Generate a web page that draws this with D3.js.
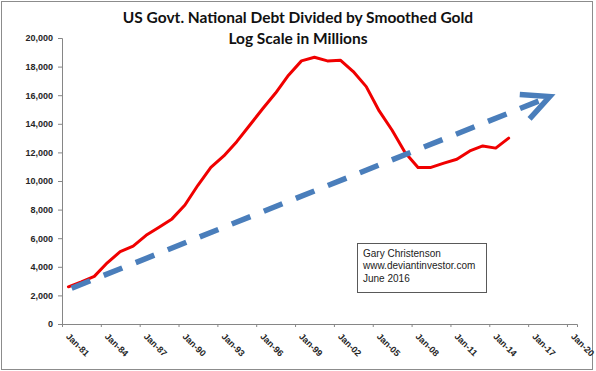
<!DOCTYPE html>
<html><head><meta charset="utf-8">
<script src="https://cdn.jsdelivr.net/npm/d3@7/dist/d3.min.js"></script>
<style>body{margin:0;background:#fff}svg{display:block}</style>
</head><body><svg id="c" width="596" height="371"></svg>
<script>
const titleLines = ["US Govt. National Debt Divided by Smoothed Gold", "Log Scale in Millions"];
const noteLines = ["Gary Christenson", "www.deviantinvestor.com", "June 2016"];
const dataYears = [1981,1982,1983,1984,1985,1986,1987,1988,1989,1990,1991,1992,1993,1994,1995,1996,1997,1998,1999,2000,2001,2002,2003,2004,2005,2006,2007,2008,2009,2010,2011,2012,2013,2014,2015];
const debtOverGold = [2600,2950,3330,4280,5060,5450,6200,6770,7350,8320,9700,10950,11750,12750,13900,15050,16150,17400,18400,18650,18400,18450,17650,16600,14900,13550,12000,10950,10950,11250,11520,12100,12450,12300,13000];
const tickYears = [1981,1984,1987,1990,1993,1996,1999,2002,2005,2008,2011,2014,2017,2020];
const yTickValues = [0,2000,4000,6000,8000,10000,12000,14000,16000,18000,20000];
const trendDates = [new Date(1981, 9, 1), new Date(2018, 8, 1)];
const trendValues = [2500, 15900];

const svg = d3.select("#c");
svg.append("rect").attr("x",1.5).attr("y",1.5).attr("width",591).attr("height",368)
  .attr("fill","#fff").attr("stroke","#8c8c8c").attr("stroke-width",1);

const x = d3.scaleTime().domain([new Date(1981,0,1), new Date(2020,9,10)]).range([62, 577]);
const y = d3.scaleLinear().domain([0, 20000]).range([324, 38]);

const FONT = "'Liberation Sans', Arial, sans-serif";
const TFONT = "Lato, 'Open Sans', sans-serif";

// title
svg.append("g").selectAll("text").data(titleLines).join("text")
  .attr("x", 298).attr("y", (d,i) => 23 + i*20.5)
  .attr("text-anchor","middle").attr("font-family", TFONT).attr("font-weight","bold")
  .attr("font-size", 15.5).attr("fill","#111").text(d => d);

// y axis
const yAxis = d3.axisLeft(y).tickValues(yTickValues).tickSize(4).tickPadding(5).tickFormat(d3.format(","));
const gy = svg.append("g").attr("transform","translate(62,0)").call(yAxis);
gy.select(".domain").attr("stroke","#868686");
gy.selectAll(".tick line").attr("stroke","#868686");
gy.selectAll("text").attr("font-family", FONT).attr("font-weight","bold").attr("font-size",9).attr("fill","#262626");

// x axis
const xAxis = d3.axisBottom(x).tickValues(tickYears.map(v => new Date(v,0,1))).tickSize(3).tickFormat(d3.timeFormat("%b-%y"));
const gx = svg.append("g").attr("transform","translate(0,324)").call(xAxis);
gx.select(".domain").attr("stroke","#868686");
gx.selectAll(".tick line").attr("stroke","#868686");
gx.selectAll("text").attr("font-family", FONT).attr("font-weight","bold").attr("font-size",9).attr("fill","#262626")
  .attr("text-anchor","start").attr("y",0).attr("dy",0)
  .attr("transform","translate(3,13) rotate(45)");

// red line
const line = d3.line().x(d => x(new Date(d[0],6,1))).y(d => y(d[1]));
svg.append("path").datum(dataYears.map((yr,i) => [yr, debtOverGold[i]]))
  .attr("d", line).attr("fill","none").attr("stroke","#f00000").attr("stroke-width",3)
  .attr("stroke-linejoin","round").attr("stroke-linecap","round");

// trend arrow
const p0 = [x(trendDates[0]), y(trendValues[0])];
const p1 = [x(trendDates[1]), y(trendValues[1])];
svg.append("line").attr("x1",p0[0]).attr("y1",p0[1]).attr("x2",p1[0]).attr("y2",p1[1])
  .attr("stroke","#4a7ebb").attr("stroke-width",5.5).attr("stroke-dasharray","20,14.5");
const ang = Math.atan2(p1[1]-p0[1], p1[0]-p0[0]);
const L = 30, a = 26*Math.PI/180;
const arm1 = [p1[0]-L*Math.cos(ang+a), p1[1]-L*Math.sin(ang+a)];
const arm2 = [p1[0]-L*Math.cos(ang-a), p1[1]-L*Math.sin(ang-a)];
svg.append("path").attr("d", d3.line()([arm1, p1, arm2]))
  .attr("fill","none").attr("stroke","#4a7ebb").attr("stroke-width",5.5)
  .attr("stroke-linejoin","miter").attr("stroke-linecap","butt");

// note box
svg.append("rect").attr("x",357.5).attr("y",243.5).attr("width",129).attr("height",49)
  .attr("fill","#fff").attr("stroke","#595959").attr("stroke-width",1);
svg.append("g").selectAll("text").data(noteLines).join("text")
  .attr("x",363).attr("y",(d,i) => 256.5 + i*12.5)
  .attr("font-family", FONT).attr("font-size",10).attr("fill","#222").text(d => d);
</script></body></html>
